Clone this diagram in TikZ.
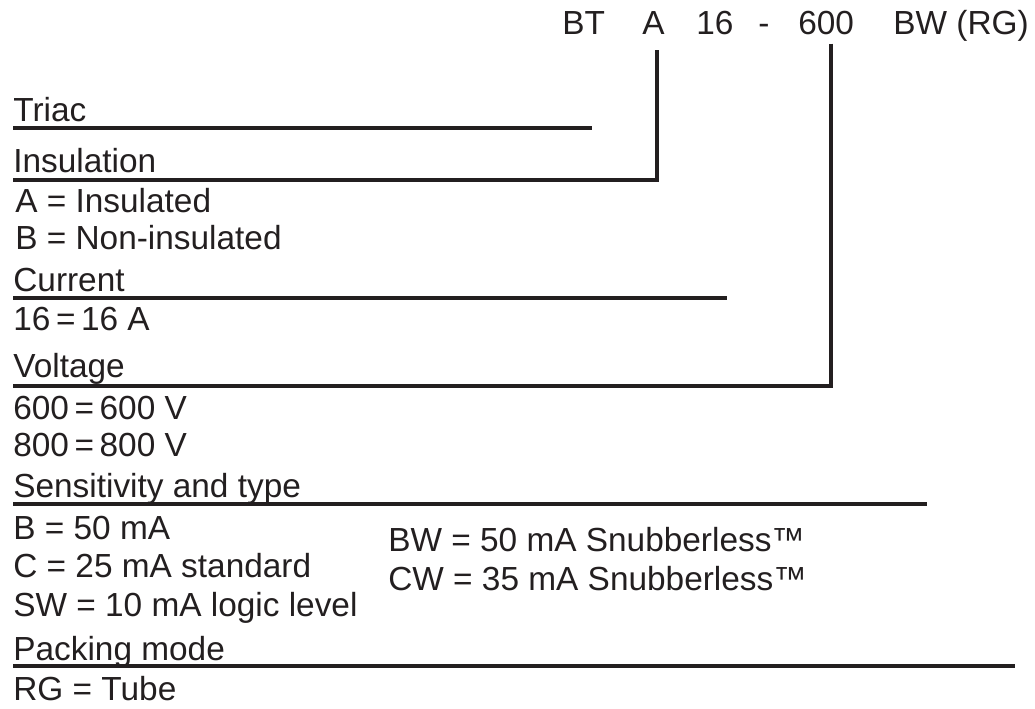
\documentclass[tikz,border=0pt]{standalone}
\usepackage{fontspec}
\setmainfont{Liberation Sans}
\usepackage{xcolor}
\usepackage{tikz}

\definecolor{ink}{HTML}{231F20}

\begin{document}
\begin{tikzpicture}[x=0.02cm,y=-0.02cm,
        txt/.style={anchor=base west,inner sep=0pt,text=ink,font=\fontsize{19}{22}\selectfont},
        rule/.style={draw=ink,line width=2.3pt}]
        \useasboundingbox (0,0) rectangle (1035,709);
        % Part number
        \node[txt] (bt) at (562,35) {BT};
        \node[txt] (codeA) at (642,35) {A};
        \node[txt] (code16) at (696,35) {16};
        \node[txt] (dash) at (758,35) {-};
        \node[txt] (code600) at (798,35) {600};
        \node[txt] (codeBW) at (893,35) {BW (RG)};
        % Headings
        \node[txt] (triac) at (13,122) {Triac};
        \node[txt] (ins) at (13,173) {Insulation};
        \node[txt] (cur) at (13,292) {Current};
        \node[txt] (volt) at (13,378) {Voltage};
        \node[txt] (sens) at (13,498) {Sensitivity and type};
        \node[txt] (pack) at (13,660) {Packing mode};
        % Values
        \node[txt] (insA) at (15,213) {A = Insulated};
        \node[txt] (insB) at (15,250) {B = Non-insulated};
        \node[txt] (cur16) at (13,331) {16\,=\,16 A};
        \node[txt] (v600) at (13,420) {600\,=\,600 V};
        \node[txt] (v800) at (13,457) {800\,=\,800 V};
        \node[txt] (sB) at (13,540) {B = 50 mA};
        \node[txt] (sC) at (13,578) {C = 25 mA standard};
        \node[txt] (sSW) at (13,616) {SW = 10 mA logic level};
        \node[txt] (sBW) at (388,551) {BW = 50 mA Snubberless™};
        \node[txt] (sCW) at (388,590) {CW = 35 mA Snubberless™};
        \node[txt] (pRG) at (13,700) {RG = Tube};
        % Line ends
        \coordinate (triacEnd) at (592,128);
        \coordinate (insEnd) at (657,180);
        \coordinate (curEnd) at (727,298);
        \coordinate (voltEnd) at (831,386);
        \coordinate (sensEnd) at (927,504);
        \coordinate (packEnd) at (1015,666);
        % Rules
        \draw[rule] (triac.base west |- triacEnd) -- (triacEnd);
        \draw[rule,shorten <=0.3cm] (codeA.south -| insEnd) -- (insEnd) -- (ins.base west |- insEnd);
        \draw[rule] (cur.base west |- curEnd) -- (curEnd);
        \draw[rule,shorten <=0.16cm] (code600.south -| voltEnd) -- (voltEnd) -- (volt.base west |- voltEnd);
        \draw[rule] (sens.base west |- sensEnd) -- (sensEnd);
        \draw[rule] (pack.base west |- packEnd) -- (packEnd);
    \end{tikzpicture}
\end{document}
